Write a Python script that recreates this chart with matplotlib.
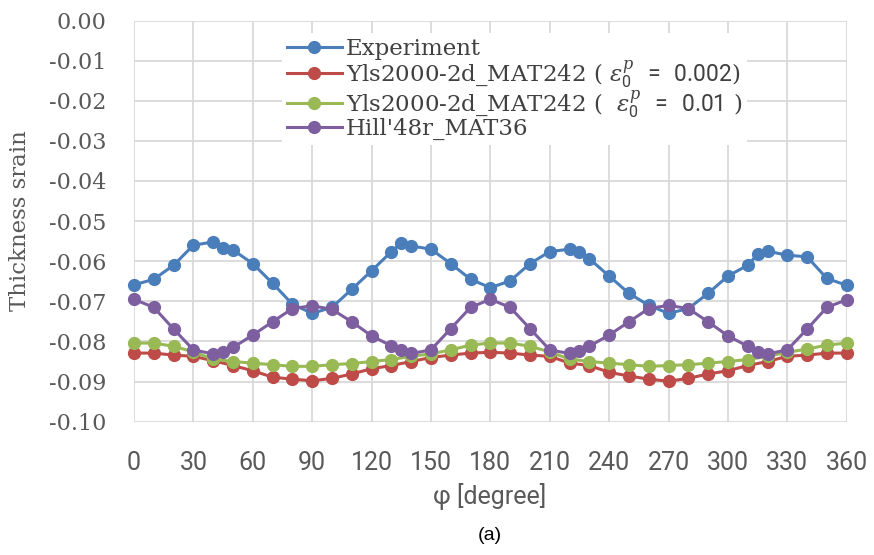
import matplotlib
matplotlib.use("Agg")
import matplotlib.pyplot as plt

plt.rcParams['mathtext.fontset'] = 'custom'
plt.rcParams['mathtext.rm'] = 'Roboto'
plt.rcParams['mathtext.it'] = 'DejaVu Serif:italic'
plt.rcParams['mathtext.bf'] = 'DejaVu Serif:bold'

# angles (degree)
phi_exp = [0, 10, 20, 30, 40, 45, 50, 60, 70, 80, 90, 100, 110, 120, 130, 135, 140,
           150, 160, 170, 180, 190, 200, 210, 220, 225, 230, 240, 250, 260, 270, 280,
           290, 300, 310, 315, 320, 330, 340, 350, 360]
phi_sim = [0, 10, 20, 30, 40, 50, 60, 70, 80, 90, 100, 110, 120, 130, 140, 150, 160, 170,
           180, 190, 200, 210, 220, 230, 240, 250, 260, 270, 280, 290, 300, 310, 320, 330,
           340, 350, 360]

experiment = [-0.0659, -0.0645, -0.0610, -0.0560, -0.0552, -0.0566, -0.0572, -0.0606,
              -0.0655, -0.0707, -0.0730, -0.0715, -0.0670, -0.0624, -0.0576, -0.0554,
              -0.0562, -0.0570, -0.0606, -0.0645, -0.0666, -0.0649, -0.0606, -0.0576,
              -0.0570, -0.0576, -0.0594, -0.0637, -0.0680, -0.0710, -0.0730, -0.0718,
              -0.0680, -0.0637, -0.0610, -0.0583, -0.0575, -0.0585, -0.0589, -0.0643,
              -0.0660]
hill48 = [-0.0695, -0.0715, -0.0769, -0.0821, -0.0831, -0.0827, -0.0815, -0.0784,
          -0.0751, -0.0718, -0.0711, -0.0720, -0.0751, -0.0786, -0.0811, -0.0821,
          -0.0830, -0.0821, -0.0768, -0.0715, -0.0695, -0.0715, -0.0768, -0.0821,
          -0.0830, -0.0823, -0.0812, -0.0784, -0.0751, -0.0718, -0.0710, -0.0718,
          -0.0751, -0.0786, -0.0812, -0.0826, -0.0831, -0.0821, -0.0769, -0.0715,
          -0.0696]
yls_002 = [-0.0829, -0.0829, -0.0834, -0.0837, -0.0848, -0.0860, -0.0873, -0.0889,
           -0.0894, -0.0898, -0.0892, -0.0881, -0.0868, -0.0860, -0.0850, -0.0840,
           -0.0834, -0.0829, -0.0827, -0.0829, -0.0834, -0.0837, -0.0854, -0.0860,
           -0.0877, -0.0886, -0.0894, -0.0899, -0.0892, -0.0881, -0.0873, -0.0860,
           -0.0850, -0.0837, -0.0834, -0.0829, -0.0829]
yls_01 = [-0.0804, -0.0804, -0.0812, -0.0826, -0.0844, -0.0850, -0.0854, -0.0858,
          -0.0862, -0.0862, -0.0858, -0.0855, -0.0850, -0.0845, -0.0837, -0.0831,
          -0.0821, -0.0809, -0.0804, -0.0804, -0.0812, -0.0826, -0.0844, -0.0850,
          -0.0854, -0.0858, -0.0862, -0.0860, -0.0858, -0.0854, -0.0850, -0.0845,
          -0.0837, -0.0827, -0.0819, -0.0809, -0.0804]

labels = ["Experiment",
          r"Yls2000-2d_MAT242 ( $\varepsilon_0^p\;\,=\;\,0.002$)",
          r"Yls2000-2d_MAT242 (  $\varepsilon_0^p\;\,=\;\,0.01$ )",
          "Hill'48r_MAT36"]
colors = ["#4A7EBB", "#BE4B48", "#98B954", "#7D5FA0"]

xticks = list(range(0, 361, 30))
yticks = [0.00, -0.01, -0.02, -0.03, -0.04, -0.05, -0.06, -0.07, -0.08, -0.09, -0.10]

fig = plt.figure(figsize=(8.74, 5.55), dpi=100)
ax = fig.add_axes([134/874, 1-421.7/555, (846.7-134)/874, (421.7-20.5)/555])

series = [(phi_exp, experiment), (phi_sim, yls_002), (phi_sim, yls_01), (phi_exp, hill48)]
for (x, y), lab, c in zip(series, labels, colors):
    ax.plot(x, y, '-o', color=c, lw=2.2, ms=8.5, label=lab, clip_on=False)

ax.set_xlim(0, 360)
ax.set_ylim(-0.10, 0.0)
ax.set_xticks(xticks)
ax.set_yticks(yticks)
ax.set_yticklabels([f"{v:.2f}" if v != 0 else "0.00" for v in yticks],
                   fontfamily='DejaVu Serif', fontsize=16, color='#595959')
ax.set_xticklabels([str(v) for v in xticks], fontfamily='Roboto',
                   fontsize=18, color='#595959')
ax.tick_params(length=0)
ax.tick_params(axis='y', pad=20)
ax.tick_params(axis='x', pad=21)
for s in ax.spines.values():
    s.set_visible(False)
ax.grid(True, color='#D9D9D9', lw=1.3)
ax.set_axisbelow(True)

fig.text(20/874, 1-221/555, "Thickness srain", rotation=90, ha='center', va='center',
         fontfamily='DejaVu Serif', fontsize=16.5, color='#595959')
fig.text(490/874, 1-497/555, "φ [degree]", ha='center', va='center',
         fontfamily='Roboto', fontsize=18, color='#595959')
fig.text(490/874, 1-536/555, "(a)", ha='center', va='center',
         fontfamily='Liberation Sans', fontsize=14, color='black')

leg = ax.legend(loc='upper left', bbox_to_anchor=(282/874, 1-33/555),
                bbox_transform=fig.transFigure, frameon=True, fancybox=False,
                edgecolor='none', facecolor='white', framealpha=1,
                prop={'family': 'DejaVu Serif', 'size': 16.5}, handlelength=2.4,
                handletextpad=0.2, labelspacing=-0.08, borderpad=0.2,
                borderaxespad=0)
for t in leg.get_texts():
    t.set_color('#404040')

fig.savefig("out.png", dpi=100)
